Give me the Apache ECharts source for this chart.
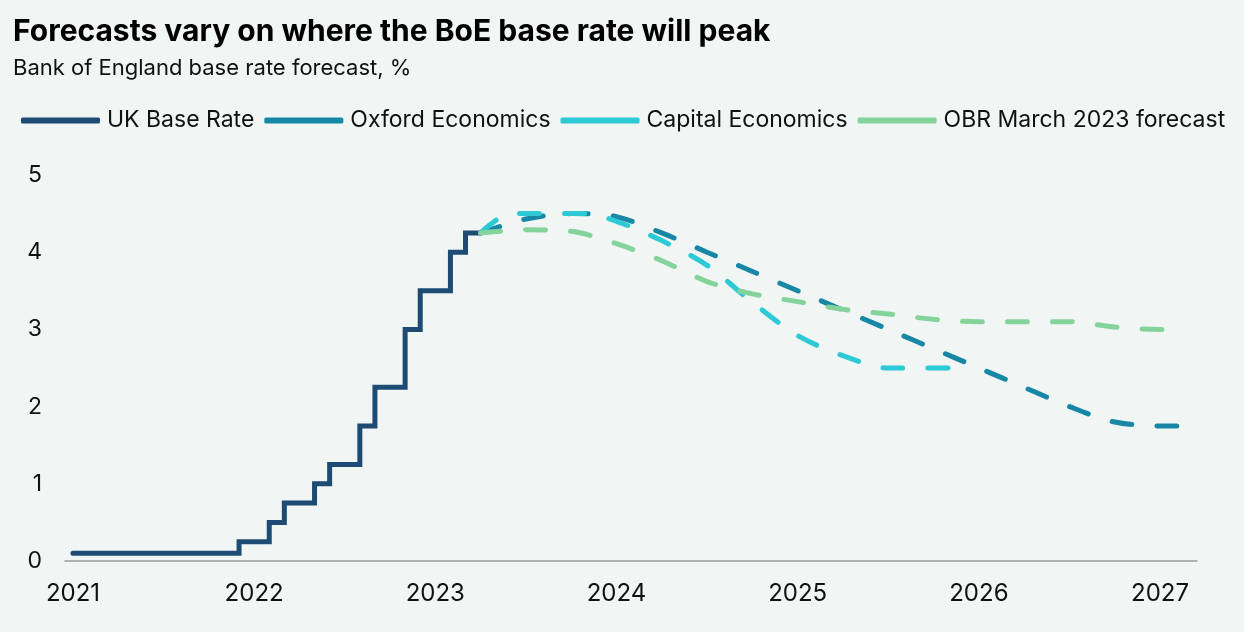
<!DOCTYPE html>
<html>
<head>
<meta charset="utf-8">
<script src="https://cdn.jsdelivr.net/npm/echarts@6/dist/echarts.min.js"></script>
<style>
html,body{margin:0;padding:0;background:#f1f5f4;}
#chart{width:1244px;height:632px;}
</style>
</head>
<body>
<div id="chart"></div>
<script>
// ---- data ----
var seriesNames = ['UK Base Rate', 'Oxford Economics', 'Capital Economics', 'OBR March 2023 forecast'];
var yearTicks = [2021, 2022, 2023, 2024, 2025, 2026, 2027];
var yTicks = [0, 1, 2, 3, 4, 5];

var baseDates = ['2021-01','2021-12','2022-02','2022-03','2022-05','2022-06','2022-08','2022-09','2022-11','2022-12','2023-02','2023-03','2023-04'];
var baseValues = [0.1, 0.25, 0.5, 0.75, 1.0, 1.25, 1.75, 2.25, 3.0, 3.5, 4.0, 4.25, 4.25];

var oxfordDates = ['2023-04','2023-07','2023-10','2024-01','2024-04','2024-07','2024-10','2025-01','2025-04','2025-07','2025-10','2026-01','2026-04','2026-07','2026-10','2027-01','2027-03'];
var oxfordValues = [4.25, 4.43, 4.5, 4.46, 4.25, 4.0, 3.75, 3.5, 3.25, 3.0, 2.75, 2.5, 2.25, 2.0, 1.8, 1.75, 1.75];

var capitalDates = ['2023-04','2023-06','2023-11','2024-01','2024-04','2024-07','2024-10','2025-01','2025-04','2025-07','2025-12'];
var capitalValues = [4.25, 4.5, 4.5, 4.4, 4.15, 3.83, 3.35, 2.92, 2.66, 2.5, 2.5];

var obrDates = ['2023-04','2023-07','2023-10','2024-01','2024-04','2024-07','2024-10','2025-01','2025-04','2025-07','2025-10','2026-01','2026-04','2026-07','2026-10','2027-01','2027-02'];
var obrValues = [4.25, 4.29, 4.27, 4.11, 3.89, 3.62, 3.46, 3.36, 3.26, 3.2, 3.13, 3.1, 3.1, 3.1, 3.03, 3.0, 3.0];

// ---- helpers ----
function toYear(s) {
  var p = s.split('-');
  return +p[0] + (+p[1] - 1) / 12;
}
function pairs(dates, values) {
  return dates.map(function (d, i) { return [toYear(d), values[i]]; });
}

var colors = ['#1d4b74', '#1787a6', '#2dc9d5', '#83d39a'];
var FONT = 'Inter';
var dash = [20, 25];

var chart = echarts.init(document.getElementById('chart'), null, {renderer: 'canvas'});
chart.setOption({
  backgroundColor: '#f1f5f4',
  animation: false,
  color: colors,
  title: [
    {
      text: 'Forecasts vary on where the BoE base rate will peak',
      left: 13, top: 16, padding: 0,
      textStyle: {fontFamily: FONT, fontSize: 30, fontWeight: 'bold', color: '#000', lineHeight: 32}
    },
    {
      text: 'Bank of England base rate forecast, %',
      left: 13, top: 56, padding: 0,
      textStyle: {fontFamily: FONT, fontSize: 22, fontWeight: 'normal', color: '#111', lineHeight: 24}
    }
  ],
  legend: {
    left: 21, top: 109, padding: 0,
    itemWidth: 79, itemHeight: 6, itemGap: 10,
    icon: 'roundRect',
    data: seriesNames,
    textStyle: {fontFamily: FONT, fontSize: 23, color: '#111', padding: [0, 0, 0, 2]}
  },
  grid: {left: 65, right: 47, top: 175, bottom: 71, containLabel: false},
  xAxis: {
    type: 'value',
    min: 2020.956, max: 2027.204,
    axisLine: {show: true, lineStyle: {color: '#9a9a9a', width: 1.5}},
    axisTick: {show: false},
    splitLine: {show: false},
    axisLabel: {
      customValues: yearTicks,
      formatter: function (v) { return String(Math.round(v)); },
      fontFamily: FONT, fontSize: 24, color: '#111', margin: 21
    }
  },
  yAxis: {
    type: 'value',
    min: 0, max: 5, interval: 1,
    axisLine: {show: false},
    axisTick: {show: false},
    splitLine: {show: false},
    axisLabel: {fontFamily: FONT, fontSize: 23, color: '#111', margin: 23, padding: [0, 0, 6, 0]}
  },
  series: [
    {
      name: seriesNames[0], type: 'line', step: 'end', showSymbol: false,
      data: pairs(baseDates, baseValues),
      lineStyle: {width: 5, color: colors[0], cap: 'round', join: 'miter'}, z: 2
    },
    {
      name: seriesNames[1], type: 'line', smooth: 0.3, showSymbol: false,
      data: pairs(oxfordDates, oxfordValues),
      lineStyle: {width: 5, color: colors[1], type: dash, cap: 'round'}, z: 3
    },
    {
      name: seriesNames[2], type: 'line', smooth: 0.3, showSymbol: false,
      data: pairs(capitalDates, capitalValues),
      lineStyle: {width: 5, color: colors[2], type: dash, cap: 'round'}, z: 4
    },
    {
      name: seriesNames[3], type: 'line', smooth: 0.3, showSymbol: false,
      data: pairs(obrDates, obrValues),
      lineStyle: {width: 5, color: colors[3], type: dash, cap: 'round'}, z: 5
    }
  ]
});
</script>
</body>
</html>
